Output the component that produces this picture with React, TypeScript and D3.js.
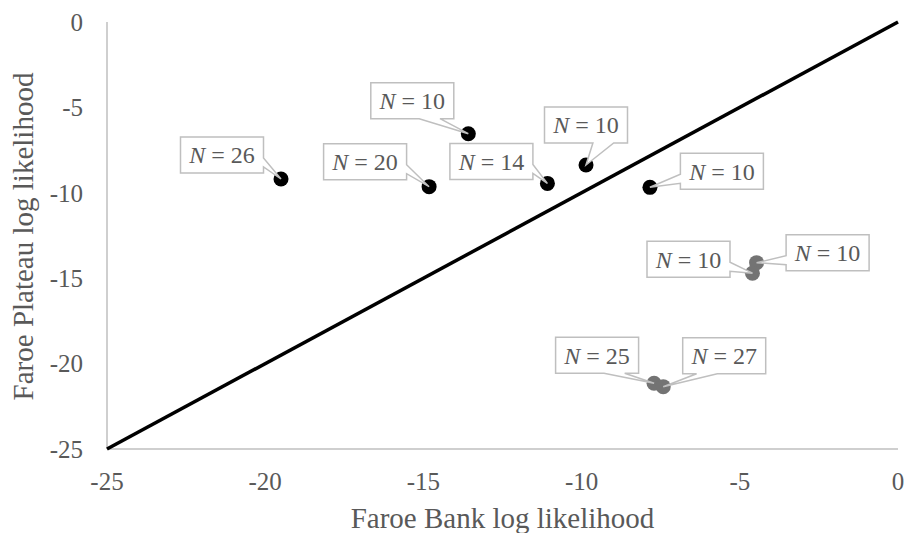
import React from "react";
import * as d3 from "d3";

// Data
const bankLL = [-19.5, -14.82, -13.58, -11.08, -9.86, -7.84, -4.47, -4.6, -7.71, -7.42];
const plateauLL = [-9.19, -9.64, -6.54, -9.45, -8.37, -9.68, -14.09, -14.71, -21.15, -21.35];
const sampleN = [26, 20, 10, 14, 10, 10, 10, 10, 25, 27];
const groups = ["A", "A", "A", "A", "A", "A", "B", "B", "B", "B"];
const xTicks = [-25, -20, -15, -10, -5, 0];
const yTicks = [0, -5, -10, -15, -20, -25];
// Label box centre offsets from the point (layout, px)
const labelDx = [-59, -64, -56, -56, 0, 72, 71, -64, -57, 61];
const labelDy = [-24, -25, -33, -22, -40, -16, -10, -14, -28, -31];

const W = 908;
const H = 533;
const FONT = "'Liberation Serif', 'Times New Roman', serif";
const TXT = "#595959";
const AXIS = "#bfbfbf";

function calloutPath(x0: number, y0: number, w: number, h: number, px: number, py: number) {
  const x1 = x0 + w, y1 = y0 + h;
  const cx = x0 + w / 2, cy = y0 + h / 2;
  const dx = (px - cx) / w, dy = (py - cy) / h;
  const pts: [number, number][] = [];
  const side = Math.abs(dx) > Math.abs(dy) ? (dx > 0 ? "r" : "l") : dy > 0 ? "b" : "t";
  const ya = dy < 0 ? [y0 + (h * 2) / 12, y0 + (h * 5) / 12] : [y0 + (h * 7) / 12, y0 + (h * 10) / 12];
  const xa = dx < 0 ? [x0 + (w * 2) / 12, x0 + (w * 5) / 12] : [x0 + (w * 7) / 12, x0 + (w * 10) / 12];
  pts.push([x0, y0]);
  if (side === "t") { pts.push([xa[0], y0], [px, py], [xa[1], y0]); }
  pts.push([x1, y0]);
  if (side === "r") { pts.push([x1, ya[0]], [px, py], [x1, ya[1]]); }
  pts.push([x1, y1]);
  if (side === "b") { pts.push([xa[1], y1], [px, py], [xa[0], y1]); }
  pts.push([x0, y1]);
  if (side === "l") { pts.push([x0, ya[1]], [px, py], [x0, ya[0]]); }
  return "M" + pts.map((p) => p[0].toFixed(1) + "," + p[1].toFixed(1)).join("L") + "Z";
}

export default function App() {
  const x = d3.scaleLinear().domain([-25, 0]).range([107, 898]);
  const y = d3.scaleLinear().domain([-25, 0]).range([449, 22]);
  const color = (g: string) => (g === "A" ? "#000000" : "#737373");
  const bw = 83, bh = 36;

  return (
    <svg width={W} height={H} style={{ position: "absolute", left: 0, top: 0, background: "#fff" }}>
      <rect width={W} height={H} fill="#fff" />
      {/* axes */}
      <line x1={x(-25)} x2={x(-25)} y1={y(0)} y2={y(-25)} stroke={AXIS} strokeWidth={1.5} />
      <line x1={x(-25)} x2={x(0)} y1={y(-25)} y2={y(-25)} stroke={AXIS} strokeWidth={1.5} />
      {yTicks.map((t) => (
        <text key={"y" + t} x={83} y={y(t)} dy="0.35em" textAnchor="end" fontFamily={FONT} fontSize={25} fill={TXT}>
          {t}
        </text>
      ))}
      {xTicks.map((t) => (
        <text key={"x" + t} x={x(t)} y={490} textAnchor="middle" fontFamily={FONT} fontSize={25} fill={TXT}>
          {t}
        </text>
      ))}
      <text x={(x(-25) + x(0)) / 2} y={528} textAnchor="middle" fontFamily={FONT} fontSize={29} fill={TXT}>
        Faroe Bank log likelihood
      </text>
      <text
        transform={`translate(33,${(y(0) + y(-25)) / 2 + 1}) rotate(-90)`}
        textAnchor="middle"
        fontFamily={FONT}
        fontSize={29}
        fill={TXT}
      >
        Faroe Plateau log likelihood
      </text>
      {/* 1:1 line */}
      <line x1={x(-25)} y1={y(-25)} x2={x(0)} y2={y(0)} stroke="#000" strokeWidth={3.5} />
      {/* points */}
      {bankLL.map((b, i) => (
        <circle key={"c" + i} cx={x(b)} cy={y(plateauLL[i])} r={7.5} fill={color(groups[i])} />
      ))}
      {/* callout labels */}
      {bankLL.map((b, i) => {
        const px = x(b), py = y(plateauLL[i]);
        const cx = px + labelDx[i], cy = py + labelDy[i];
        const x0 = cx - bw / 2, y0 = cy - bh / 2;
        return (
          <g key={"l" + i}>
            <path d={calloutPath(x0, y0, bw, bh, px, py)} fill="#fff" stroke={AXIS} strokeWidth={1.5} strokeLinejoin="miter" />
            <text x={cx} y={cy} dy="0.35em" textAnchor="middle" fontFamily={FONT} fontSize={24} fill={TXT}>
              <tspan fontStyle="italic">N</tspan>
              {" = " + sampleN[i]}
            </text>
          </g>
        );
      })}
    </svg>
  );
}
